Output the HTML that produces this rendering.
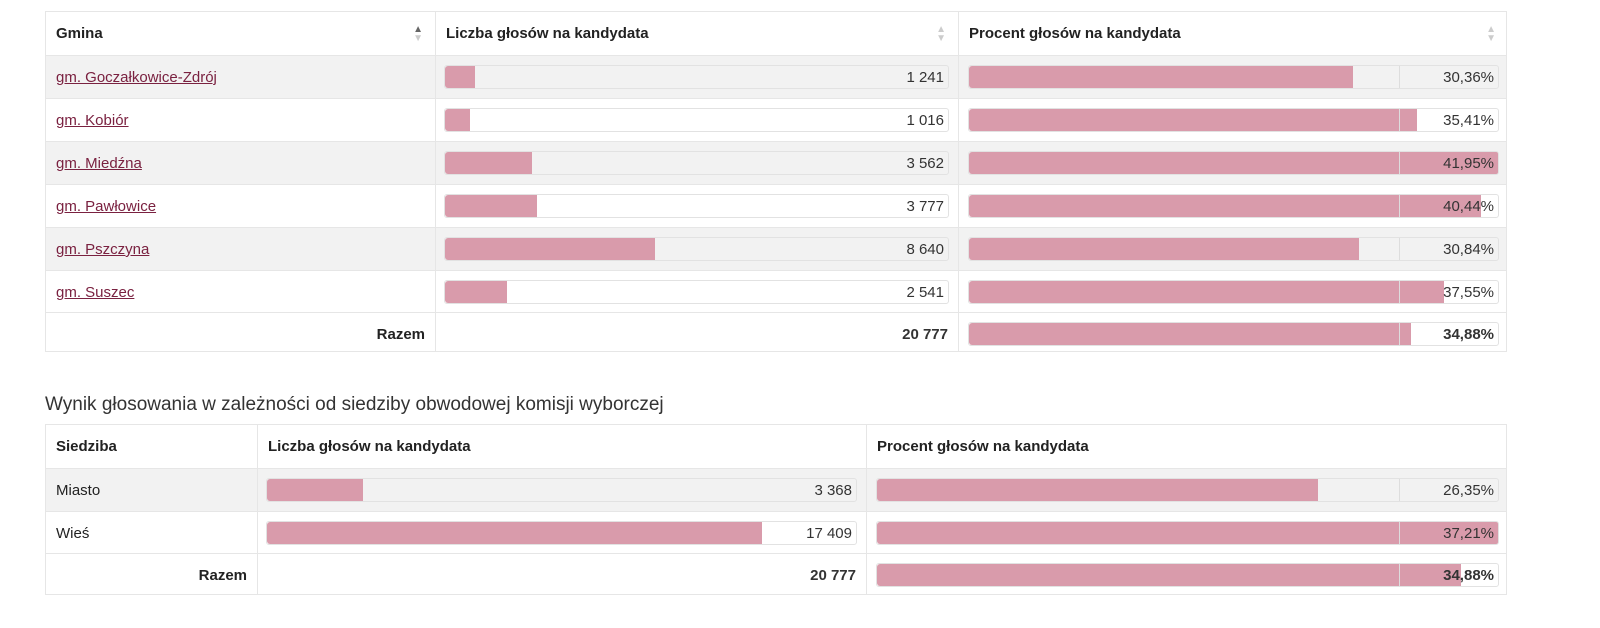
<!DOCTYPE html>
<html><head><meta charset="utf-8">
<style>
body{margin:0;width:1600px;height:628px;background:#fff;font-family:"Liberation Sans",sans-serif;color:#222;position:relative;overflow:hidden}
.abs{position:absolute;box-sizing:border-box}
.cell{position:absolute;box-sizing:border-box;font-size:15px;display:flex;align-items:center}
.hdr{font-weight:bold}
a{color:#7a2140;text-decoration:underline}
.track{position:absolute;height:24px;border:1px solid #e2e2e2;border-radius:3px;background:transparent;box-sizing:border-box;overflow:hidden}
.bar{position:absolute;left:0;top:0;bottom:0;background:#d99bab;border-radius:3px 0 0 3px}
.num{position:absolute;right:0;top:0;bottom:0;padding:0 4px;display:flex;align-items:center;justify-content:flex-end;font-size:15px;color:#333}
.pnum{border-left:1px solid #ddd}
.title{position:absolute;left:45px;top:394px;font-size:19px;color:#333}
</style></head><body>
<div id="t1" class="abs" style="left:45px;top:11px;width:1462px;height:341px;border:1px solid #e6e6e6;overflow:hidden"></div>
<div class="title">Wynik głosowania w zależności od siedziby obwodowej komisji wyborczej</div>
<div id="t2" class="abs" style="left:45px;top:424px;width:1462px;height:171px;border:1px solid #e6e6e6;overflow:hidden"></div>
<script>
const gminy=["gm. Goczałkowice-Zdrój","gm. Kobiór","gm. Miedźna","gm. Pawłowice","gm. Pszczyna","gm. Suszec"];
const gminaVotes=[1241,1016,3562,3777,8640,2541];
const gminaPct=[30.36,35.41,41.95,40.44,30.84,37.55];
const gminaTotalVotes=20777;
const gminaTotalPct=34.88;
const siedziby=["Miasto","Wieś"];
const siedzibaVotes=[3368,17409];
const siedzibaPct=[26.35,37.21];
const siedzibaTotalVotes=20777;
const siedzibaTotalPct=34.88;

function fmtN(v){return String(v).replace(/\B(?=(\d{3})+(?!\d))/g,"\u00a0");}
function fmtP(v){return v.toFixed(2).replace(".",",")+"%";}

function build(container,cols,headers,labels,votes,pcts,totV,totP,isLink,sortable){
  const rowH=43;
  const xScaleV=(v,w)=>v/totV*w;
  const maxP=Math.max(...pcts);
  const xScaleP=(p,w)=>p/maxP*w;
  const n=labels.length;
  headers.forEach((h,i)=>{
    const c=document.createElement('div');
    c.className='cell hdr';
    
    
    c.style.left=cols[i]+'px';c.style.top='0';c.style.width=(cols[i+1]-cols[i])+'px';c.style.height=rowH+'px';
    c.style.padding='0 10px';c.style.borderRight=i<2?'1px solid #e6e6e6':'none';
    c.textContent=h;
    if(sortable){const s=document.createElement('span');s.style.cssText='position:absolute;right:12px;font-size:10px;color:#ccc;line-height:9px;text-align:center';s.innerHTML=i==0?'<span style="color:#666">▲</span><br>▼':'▲<br>▼';c.appendChild(s);}
    container.appendChild(c);
  });
  const rows=n+1;
  for(let r=0;r<rows;r++){
    const tot=r==n;
    const top=rowH+r*rowH-(tot?1:0);
    const row=document.createElement('div');
    row.className='abs';
    
    
    row.style.cssText=`left:0;top:${top}px;width:100%;height:${rowH}px;border-top:1px solid #e6e6e6;background:${(!tot&&r%2==0)?'#f2f2f2':'#fff'}`;
    container.appendChild(row);
    const lc=document.createElement('div');
    lc.className='cell';
    
    
    lc.style.cssText=`left:0;top:0;width:${cols[1]}px;height:${rowH}px;padding:0 10px;border-right:1px solid #e6e6e6;`+(tot?'justify-content:flex-end;font-weight:bold':'');
    if(tot)lc.textContent='Razem';
    else if(isLink){const a=document.createElement('a');a.textContent=labels[r];lc.appendChild(a);}
    else lc.textContent=labels[r];
    row.appendChild(lc);
    const v=tot?totV:votes[r];
    const vc=document.createElement('div');vc.className='abs';
    vc.style.cssText=`left:${cols[1]}px;top:0;width:${cols[2]-cols[1]}px;height:${rowH}px;border-right:1px solid #e6e6e6`;
    row.appendChild(vc);
    const w1=cols[2]-cols[1]-18;
    if(!tot){
      const tr=document.createElement('div');tr.className='track';
      
      
      tr.style.left='8px';tr.style.top='9px';tr.style.width=w1+'px';
      const b=document.createElement('div');b.className='bar';
      
      
      b.style.width=xScaleV(v,w1)+'px';
      tr.appendChild(b);
      const nm=document.createElement('div');nm.className='num';
      
      
      nm.textContent=fmtN(v);tr.appendChild(nm);
      vc.appendChild(tr);
    } else {
      const nm=document.createElement('div');nm.className='num';
      
      
      nm.style.right='6px';nm.style.fontWeight='bold';nm.textContent=fmtN(v);vc.appendChild(nm);
    }
    const p=tot?totP:pcts[r];
    const pc=document.createElement('div');pc.className='abs';
    pc.style.cssText=`left:${cols[2]}px;top:0;width:${cols[3]-cols[2]}px;height:${rowH}px`;
    row.appendChild(pc);
    const w2=cols[3]-cols[2]-18;
    const tr=document.createElement('div');tr.className='track';
    
    
    tr.style.left='9px';tr.style.top='9px';tr.style.width=w2+'px';
    const b=document.createElement('div');b.className='bar';
    
    
    b.style.width=xScaleP(p,w2)+'px';
    tr.appendChild(b);
    const nm=document.createElement('div');nm.className='num pnum';
    
    
    nm.style.width='90px';
    if(tot)nm.style.fontWeight='bold';
    nm.textContent=fmtP(p);tr.appendChild(nm);
    pc.appendChild(tr);
  }
}
build(document.getElementById('t1'),[0,390,913,1462],["Gmina","Liczba głosów na kandydata","Procent głosów na kandydata"],gminy,gminaVotes,gminaPct,gminaTotalVotes,gminaTotalPct,true,true);
build(document.getElementById('t2'),[0,212,821,1462],["Siedziba","Liczba głosów na kandydata","Procent głosów na kandydata"],siedziby,siedzibaVotes,siedzibaPct,siedzibaTotalVotes,siedzibaTotalPct,false,false);
</script>
</body></html>
